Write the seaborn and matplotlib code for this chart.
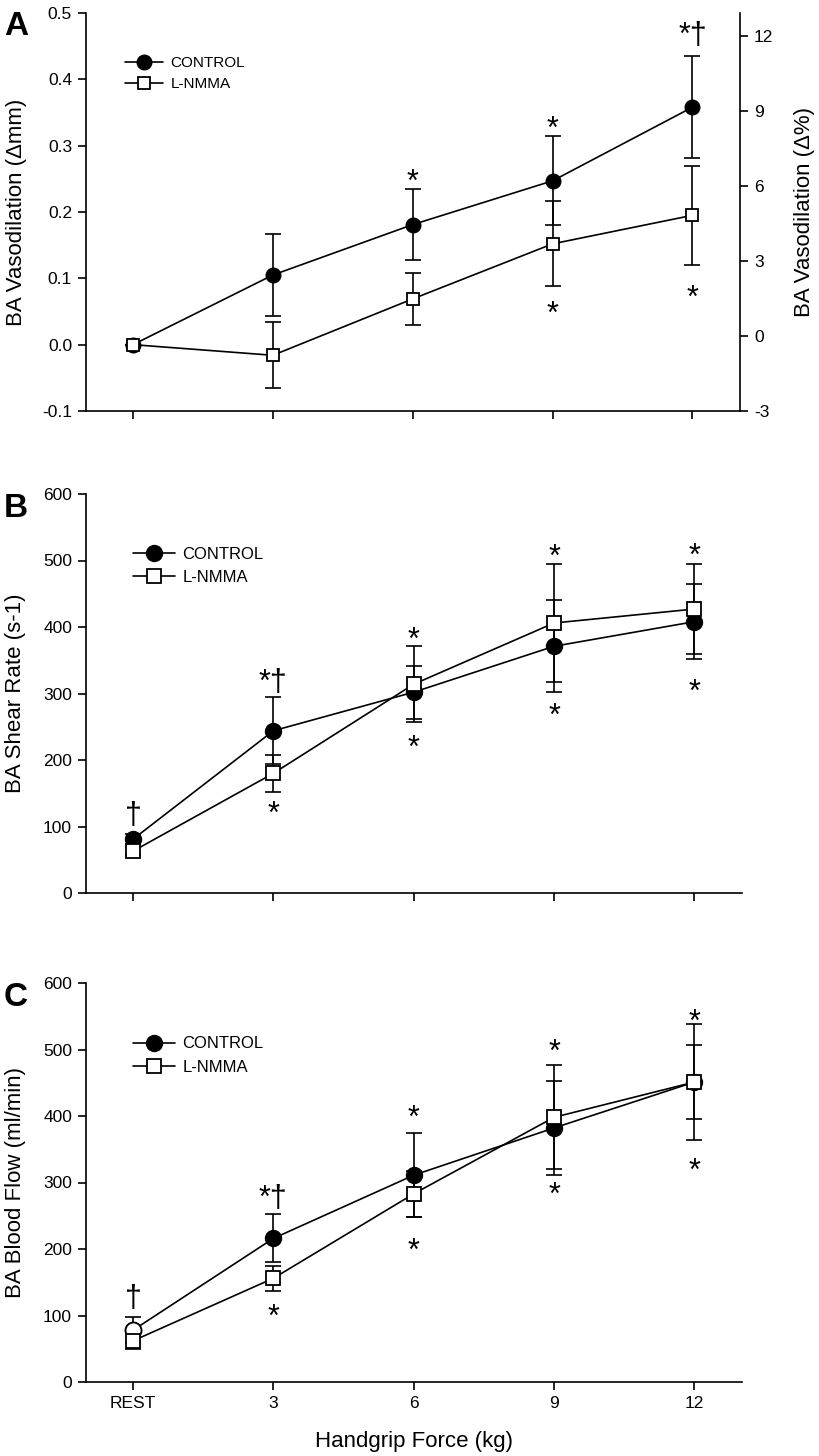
import numpy as np
import pandas as pd
import matplotlib
matplotlib.use("Agg")
import matplotlib.pyplot as plt
import seaborn as sns

sns.set_theme(style="ticks")
plt.rcParams['font.family'] = ['Liberation Sans', 'DejaVu Sans']
plt.rcParams['axes.unicode_minus'] = False
for k in ['text.color', 'axes.labelcolor', 'xtick.color', 'ytick.color',
          'axes.edgecolor']:
    plt.rcParams[k] = 'black'

# ---------------- data ----------------
categories = ["REST", "3", "6", "9", "12"]
positions = [0, 1, 2, 3, 4]

# Panel A: BA vasodilation (delta mm)
a_control = [0.0, 0.105, 0.181, 0.247, 0.358]
a_control_se = [0.0, 0.062, 0.053, 0.067, 0.077]
a_lnmma = [0.0, -0.016, 0.069, 0.152, 0.195]
a_lnmma_se = [0.0, 0.050, 0.039, 0.064, 0.075]

# Panel B: BA shear rate (s-1)
b_control = [81, 244, 302, 371, 408]
b_control_se = [8, 50, 40, 69, 56]
b_lnmma = [63, 180, 314, 406, 427]
b_lnmma_se = [6, 28, 57, 89, 67]

# Panel C: BA blood flow (ml/min)
c_control = [78, 216, 311, 382, 451]
c_control_se = [20, 36, 63, 70, 56]
c_lnmma = [62, 156, 283, 398, 451]
c_lnmma_se = [13, 19, 35, 78, 87]

# significance markers: (category position, ink-centre value, text)
a_marks = [(2, 0.259, "*"), (3, 0.339, "*"), (4, 0.480, "*†"),
           (3, 0.060, "*"), (4, 0.084, "*")]
b_marks = [(0, 118, "†"), (1, 331, "*†"), (1, 132, "*"),
           (2, 394, "*"), (2, 232, "*"), (3, 519, "*"), (3, 280, "*"),
           (4, 520, "*"), (4, 316, "*")]
c_marks = [(0, 127, "†"), (1, 290, "*†"), (1, 111, "*"),
           (2, 411, "*"), (2, 211, "*"), (3, 510, "*"), (3, 295, "*"),
           (4, 555, "*"), (4, 331, "*")]

W, H = 819, 1456
fig = plt.figure(figsize=(W / 100, H / 100), dpi=100)


def ax_rect(left, right, top, bottom):
    return [left / W, 1 - bottom / H, (right - left) / W, (bottom - top) / H]


LW = 1.2
XLIM = (-0.336, 4.34)
TICK_FS = 12.5


def draw_panel(ax, ctrl, ctrl_se, lnm, lnm_se, msize_c, msize_s,
               open_rest=False):
    df_c = pd.DataFrame({"pos": positions, "val": ctrl})
    df_l = pd.DataFrame({"pos": positions, "val": lnm})
    ax.errorbar(positions, ctrl, yerr=ctrl_se, fmt="none", ecolor="black",
                elinewidth=LW, capsize=6, capthick=LW, zorder=2)
    ax.errorbar(positions, lnm, yerr=lnm_se, fmt="none", ecolor="black",
                elinewidth=LW, capsize=6, capthick=LW, zorder=2)
    sns.lineplot(data=df_c, x="pos", y="val", ax=ax, color="black",
                 marker="o", markersize=msize_c, markerfacecolor="black",
                 markeredgecolor="black", markeredgewidth=1.0, lw=LW,
                 label="CONTROL", zorder=3)
    sns.lineplot(data=df_l, x="pos", y="val", ax=ax, color="black",
                 marker="s", markersize=msize_s, markerfacecolor="white",
                 markeredgecolor="black", markeredgewidth=1.3, lw=LW,
                 label="L-NMMA", zorder=4)
    if open_rest:
        ax.plot(positions[0], ctrl[0], marker="o", markersize=msize_c,
                markerfacecolor="white", markeredgecolor="black",
                markeredgewidth=1.3, zorder=3.5)
    ax.set_xlim(*XLIM)
    ax.set_xticks(positions)
    ax.set_xlabel("")
    for s in ["top", "right"]:
        ax.spines[s].set_visible(False)
    for s in ["left", "bottom"]:
        ax.spines[s].set_linewidth(LW)
    ax.tick_params(direction="out", length=6, width=LW, labelsize=TICK_FS,
                   pad=4, colors="black")


def annotate(ax, marks, fs=22):
    for pos, y, txt in marks:
        off = -0.58 * fs if txt.startswith("*") else -0.30 * fs
        ax.annotate(txt, xy=(pos, y), xytext=(0, off),
                    textcoords="offset points", ha="center", va="baseline",
                    fontsize=fs, color="black")


def legend(ax, x, y, fs, spacing):
    leg = ax.legend(loc="upper left", bbox_to_anchor=(x, y), frameon=False,
                    fontsize=fs, handlelength=2.5, handletextpad=0.45,
                    labelspacing=spacing, borderpad=0, borderaxespad=0)
    for t in leg.get_texts():
        t.set_color("black")
    return leg


# ---------------- Panel A ----------------
axA = fig.add_axes(ax_rect(86, 740, 13, 411))
draw_panel(axA, a_control, a_control_se, a_lnmma, a_lnmma_se, 10.5, 9)
axA.set_ylim(-0.1, 0.5)
axA.set_yticks([-0.1, 0.0, 0.1, 0.2, 0.3, 0.4, 0.5])
axA.set_yticklabels(["-0.1", "0.0", "0.1", "0.2", "0.3", "0.4", "0.5"])
axA.set_xticklabels([])
axA.set_ylabel("BA Vasodilation (Δmm)", fontsize=16, va="center")
axA.yaxis.set_label_coords(-0.107, 0.5)
annotate(axA, a_marks)
legend(axA, 0.06, 0.892, 11, 0.45)

axA2 = axA.twinx()
axA2.set_ylim(-3, 12.92)
axA2.set_yticks([-3, 0, 3, 6, 9, 12])
axA2.set_yticklabels(["-3", "0", "3", "6", "9", "12"])
axA2.spines["top"].set_visible(False)
axA2.spines["left"].set_visible(False)
axA2.spines["bottom"].set_visible(False)
axA2.spines["right"].set_linewidth(LW)
axA2.tick_params(direction="out", length=6, width=LW, labelsize=TICK_FS,
                 pad=4, colors="black")
axA2.set_ylabel("BA Vasodilation (Δ%)", fontsize=16, va="center", rotation=90)
axA2.yaxis.set_label_coords(1.099, 0.5)

# ---------------- Panel B ----------------
axB = fig.add_axes(ax_rect(86, 742, 494, 893))
draw_panel(axB, b_control, b_control_se, b_lnmma, b_lnmma_se, 11.5, 10)
axB.set_ylim(0, 600)
axB.set_yticks([0, 100, 200, 300, 400, 500, 600])
axB.set_xticklabels([])
axB.set_ylabel("BA Shear Rate (s-1)", fontsize=16, va="center")
axB.yaxis.set_label_coords(-0.107, 0.5)
annotate(axB, b_marks)
legend(axB, 0.072, 0.868, 12, 0.5)

# ---------------- Panel C ----------------
axC = fig.add_axes(ax_rect(86, 742, 983, 1382))
draw_panel(axC, c_control, c_control_se, c_lnmma, c_lnmma_se, 11.5, 10,
           open_rest=True)
axC.set_ylim(0, 600)
axC.set_yticks([0, 100, 200, 300, 400, 500, 600])
axC.set_xticklabels(categories)
axC.set_ylabel("BA Blood Flow (ml/min)", fontsize=16, va="center")
axC.yaxis.set_label_coords(-0.107, 0.5)
axC.set_xlabel("Handgrip Force (kg)", fontsize=16, va="center")
axC.xaxis.set_label_coords(0.5, -0.150)
annotate(axC, c_marks)
legend(axC, 0.072, 0.866, 12, 0.5)

# panel letters
for letter, base in [("A", 35), ("B", 517), ("C", 1006)]:
    fig.text(16 / W, 1 - base / H, letter, fontsize=24, fontweight="bold",
             ha="center", va="baseline", color="black")

fig.savefig("out.png", dpi=100, facecolor="white")
